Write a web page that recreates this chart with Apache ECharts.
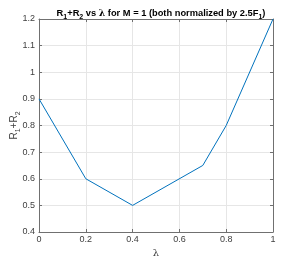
<!DOCTYPE html>
<html>
<head>
<meta charset="utf-8">
<script src="https://cdn.jsdelivr.net/npm/echarts@6/dist/echarts.min.js"></script>
<style>html,body{margin:0;padding:0;background:#fff}#c{width:303px;height:261px}</style>
</head>
<body>
<div id="c"></div>
<script>
const lambdaValues = [0, 0.2, 0.4, 0.7, 0.8, 1.0];
const sumValues = [0.9, 0.6, 0.5, 0.65, 0.8, 1.2];
const xTicks = [0, 0.2, 0.4, 0.6, 0.8, 1];
const yTicks = [0.4, 0.5, 0.6, 0.7, 0.8, 0.9, 1, 1.1, 1.2];

const axisColor = '#707070';
const labelColor = '#404040';
const gridColor = '#e6e6e6';
const font = 'Liberation Sans, Arial, sans-serif';

const chart = echarts.init(document.getElementById('c'), null, {renderer: 'canvas'});
const baseAxis = {
  axisLine: {show: true, onZero: false, lineStyle: {color: axisColor, width: 1}},
  axisTick: {show: true, inside: true, length: 3, lineStyle: {color: axisColor}},
};
chart.setOption({
  animation: false,
  backgroundColor: '#fff',
  title: {
    left: 156, top: 4, textAlign: 'center',
    text: '{b|R}{s|1}{b|+R}{s|2}{b| vs }{l|λ}{b| for M = 1 (both normalized by 2.5F}{s|1}{b|)}',
    textStyle: {
      rich: {
        b: {fontFamily: font, fontSize: 9.3, fontWeight: 'bold', color: '#000', verticalAlign: 'top', lineHeight: 12},
        s: {fontFamily: font, fontSize: 7, fontWeight: 'bold', color: '#000', padding: [5, 0, 0, 0], lineHeight: 12},
        l: {fontFamily: 'DejaVu Serif, serif', fontSize: 9.3, color: '#000', verticalAlign: 'top', lineHeight: 12}
      }
    }
  },
  grid: {left: 39, right: 30, top: 19, bottom: 29, containLabel: false, outerBoundsMode: 'none'},
  xAxis: [{
    ...baseAxis,
    type: 'value', min: 0, max: 1, interval: 0.2,
    axisLabel: {color: labelColor, fontSize: 9, fontFamily: font, margin: 3,
      formatter: v => String(+v.toFixed(2))},
    splitLine: {show: true, lineStyle: {color: gridColor, width: 1}},
    name: 'λ', nameLocation: 'middle', nameGap: 16, nameMoveOverlap: false,
    nameTextStyle: {fontFamily: 'DejaVu Serif, serif', fontSize: 10, color: labelColor}
  }, {
    ...baseAxis,
    type: 'value', min: 0, max: 1, interval: 0.2, position: 'top',
    axisLabel: {show: false}, splitLine: {show: false}
  }],
  yAxis: [{
    ...baseAxis,
    type: 'value', min: 0.4, max: 1.2, interval: 0.1,
    axisLabel: {color: labelColor, fontSize: 9, fontFamily: font, margin: 4,
      formatter: v => String(+v.toFixed(2))},
    splitLine: {show: true, lineStyle: {color: gridColor, width: 1}},
    name: '{n|R}{s|1}{n|+R}{s|2}', nameLocation: 'middle', nameGap: 17, nameRotate: 90, nameMoveOverlap: false,
    nameTextStyle: {
      rich: {
        n: {fontFamily: font, fontSize: 10, color: labelColor, verticalAlign: 'top', lineHeight: 13},
        s: {fontFamily: font, fontSize: 7, color: labelColor, padding: [6, 0, 0, 0], lineHeight: 13}
      }
    }
  }, {
    ...baseAxis,
    type: 'value', min: 0.4, max: 1.2, interval: 0.1, position: 'right',
    axisLabel: {show: false}, splitLine: {show: false}
  }],
  series: [{
    type: 'line',
    data: lambdaValues.map((x, i) => [x, sumValues[i]]),
    showSymbol: false,
    lineStyle: {color: '#0072BD', width: 1},
    itemStyle: {color: '#0072BD'}
  }]
});
</script>
</body>
</html>
